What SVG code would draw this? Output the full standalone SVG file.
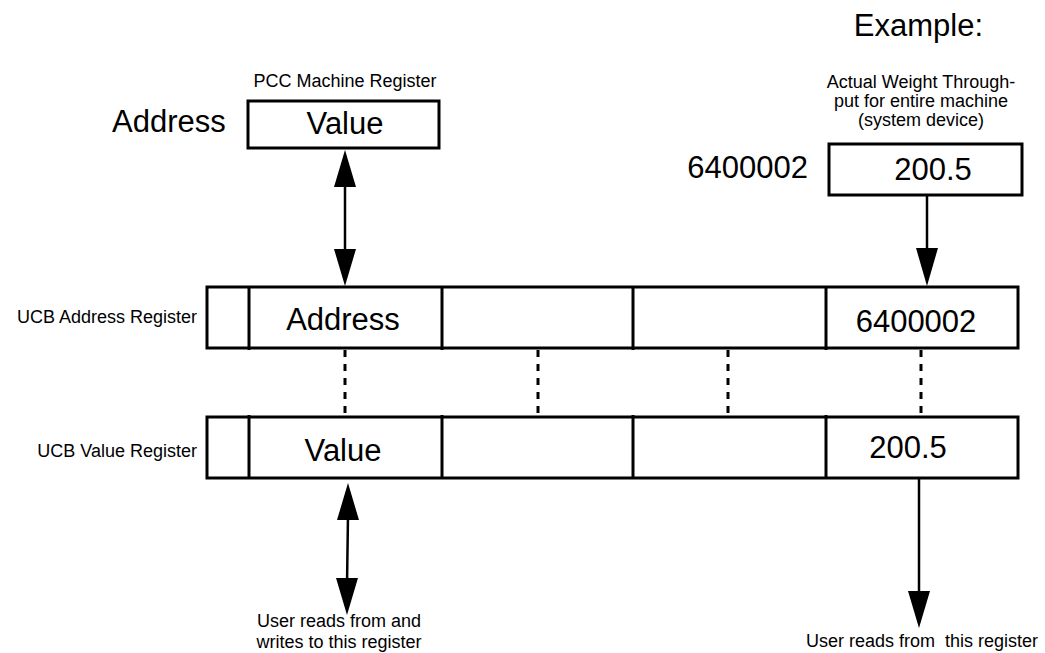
<svg xmlns="http://www.w3.org/2000/svg" width="1045" height="653" viewBox="0 0 1045 653">
<style>
.box{fill:#fff;stroke:#000;stroke-width:3}
.div{stroke:#000;stroke-width:3}
.big{font-family:"Liberation Sans",Arial,sans-serif;font-size:31px;fill:#000}
.sm{font-family:"Liberation Sans",Arial,sans-serif;font-size:18px;fill:#000}
.ln{stroke:#000;stroke-width:2.5;fill:none}
.dot{stroke:#000;stroke-width:3;stroke-dasharray:7 7;fill:none}
.ah{fill:#000}
</style>
<rect width="1045" height="653" fill="#fff"/>
<text class="big" x="983" y="36" text-anchor="end">Example:</text>
<g id="pcc">
<text class="sm" x="345" y="87" text-anchor="middle">PCC Machine Register</text>
<text class="big" x="112" y="132">Address</text>
<rect class="box" x="248" y="101" width="191" height="47"/>
<text class="big" x="345" y="134" text-anchor="middle">Value</text>
</g>
<g id="example">
<text class="sm" x="921" y="88" text-anchor="middle">Actual Weight Through-</text>
<text class="sm" x="921" y="107" text-anchor="middle">put for entire machine</text>
<text class="sm" x="921" y="126" text-anchor="middle">(system device)</text>
<text class="big" x="808" y="178" text-anchor="end">6400002</text>
<rect class="box" x="829" y="144" width="193" height="51"/>
<text class="big" x="933" y="180" text-anchor="middle">200.5</text>
</g>
<g id="ucb-address">
<text class="sm" x="197" y="323" text-anchor="end">UCB Address Register</text>
<rect class="box" x="207" y="287" width="811" height="61"/>
<line class="div" x1="249" y1="287" x2="249" y2="350"/>
<line class="div" x1="442" y1="287" x2="442" y2="350"/>
<line class="div" x1="633" y1="287" x2="633" y2="350"/>
<line class="div" x1="826" y1="287" x2="826" y2="350"/>
<text class="big" x="343" y="330" text-anchor="middle">Address</text>
<text class="big" x="916" y="332" text-anchor="middle">6400002</text>
</g>
<g id="ucb-value">
<text class="sm" x="197" y="457" text-anchor="end">UCB Value Register</text>
<rect class="box" x="207" y="417" width="811" height="61"/>
<line class="div" x1="249" y1="415" x2="249" y2="478"/>
<line class="div" x1="442" y1="415" x2="442" y2="478"/>
<line class="div" x1="633" y1="415" x2="633" y2="478"/>
<line class="div" x1="826" y1="415" x2="826" y2="478"/>
<text class="big" x="343" y="461" text-anchor="middle">Value</text>
<text class="big" x="908" y="458" text-anchor="middle">200.5</text>
</g>
<g id="labels">
<text class="sm" x="339" y="627" text-anchor="middle">User reads from and</text>
<text class="sm" x="339" y="648" text-anchor="middle">writes to this register</text>
<text class="sm" x="922" y="647" text-anchor="middle" xml:space="preserve">User reads from  this register</text>
</g>
<g id="connectors">
<line class="ln" x1="345" y1="185" x2="345" y2="250"/>
<polygon class="ah" points="345,150 334,187 356,187"/>
<polygon class="ah" points="345,286 334,249 356,249"/>
<line class="ln" x1="927" y1="195" x2="927" y2="250"/>
<polygon class="ah" points="927,286 916,248 938,248"/>
<line class="dot" x1="345" y1="350" x2="345" y2="416"/>
<line class="dot" x1="538" y1="350" x2="538" y2="416"/>
<line class="dot" x1="728" y1="350" x2="728" y2="416"/>
<line class="dot" x1="921" y1="350" x2="921" y2="416"/>
<line class="ln" x1="348" y1="515" x2="347" y2="585"/>
<polygon class="ah" points="348,483 337,520 359,520"/>
<polygon class="ah" points="347,615 336,578 358,578"/>
<line class="ln" x1="919" y1="478" x2="919" y2="595"/>
<polygon class="ah" points="919,628 908,591 930,591"/>
</g>
</svg>
